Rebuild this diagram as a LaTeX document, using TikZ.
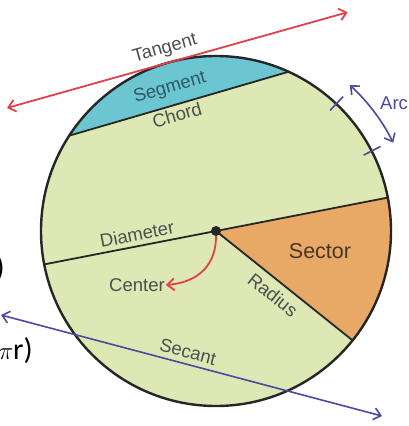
\documentclass[tikz,border=0pt]{standalone}
\usepackage{fontspec}
\setmainfont{Liberation Sans}
\newfontfamily\calib{Carlito}
\usetikzlibrary{arrows.meta,calc}
\definecolor{bggreen}{HTML}{DDE8B4}
\definecolor{segcyan}{HTML}{6CC6D2}
\definecolor{secorange}{HTML}{E8A866}
\definecolor{outline}{HTML}{262626}
\definecolor{tanred}{HTML}{E0404C}
\definecolor{arcblue}{HTML}{4A4A9E}
\definecolor{labgray}{HTML}{4E4E4E}
\definecolor{segtext}{HTML}{2E5866}
\definecolor{sectext}{HTML}{463626}
\tikzset{
  lab/.style={font=\fontsize{18.5}{20}\selectfont, text=labgray, inner sep=1pt},
  thinline/.style={draw=outline, line width=1.8pt},
  barb/.style={-{Straight Barb[length=7pt,width=12pt]}},
  dbarb/.style={{Straight Barb[length=7pt,width=12pt]}-{Straight Barb[length=7pt,width=12pt]}},
  tick/.style={draw=arcblue, line width=1.6pt},
  cuttext/.style={anchor=east, inner sep=0pt, font=\calib\fontsize{30}{32}\selectfont},
}
\begin{document}
\begin{tikzpicture}[x=1pt,y=1pt]
\useasboundingbox (0,0) rectangle (409,426);
\def\R{175}
\coordinate (c) at (216,195);
% disc
\fill[bggreen] (c) circle[radius=\R];
% segment
\fill[segcyan] ($(c)+(65.5:\R)$) arc[start angle=65.5,end angle=147,radius=\R] -- cycle;
% sector
\fill[secorange] (c) -- ($(c)+(-38.7:\R)$) arc[start angle=-38.7,end angle=11,radius=\R] -- cycle;
% chord, diameter, radius
\coordinate (ch1) at ($(c)+(147:\R)$);
\coordinate (ch2) at ($(c)+(65.5:\R)$);
\coordinate (d1) at ($(c)+(191:\R)$);
\coordinate (d2) at ($(c)+(11:\R)$);
\coordinate (r1) at ($(c)+(-38.7:\R)$);
\draw[thinline] (ch1) -- (ch2);
\draw[thinline] (d1) -- (d2);
\draw[thinline] (c) -- (r1);
% outline
\draw[outline, line width=2.4pt] (c) circle[radius=\R];
% centre dot
\node[circle, fill=outline, inner sep=0pt, minimum size=10pt] (O) at (c) {};
% tangent
\coordinate (tp) at ($(c)+(105.7:\R)$);
\coordinate (t1) at ($(tp)+(195.7:168)$);
\coordinate (t2) at ($(tp)+(15.7:186)$);
\draw[tanred, line width=1.8pt, dbarb] (t1) -- (t2);
% secant
\coordinate (s1) at (1,111);
\coordinate (s2) at (382,10);
\draw[arcblue, line width=1.6pt, dbarb] (s1) -- (s2);
% arc ticks
\draw[tick] ($(c)+(46.6:166)$) -- ($(c)+(46.6:185)$);
\draw[tick] ($(c)+(27.2:166)$) -- ($(c)+(27.2:185)$);
\draw[arcblue, line width=1.6pt, dbarb] ($(c)+(47.5:198)$) arc[start angle=47.5,end angle=26.5,radius=198];
% labels
\node[lab, rotate=15.7] (tan) at (165,377) {Tangent};
\node[lab, rotate=16, text=segtext] (seg) at (170,338) {Segment};
\node[lab, rotate=16] (cho) at (177,311) {Chord};
\node[lab, anchor=west, text=arcblue] (arc) at (379,323) {Arc};
\node[lab, rotate=11] (dia) at (137,192) {Diameter};
\node[lab] (ctr) at (137,141) {Center};
\node[lab, rotate=-38.7] (rad) at (273,131) {Radius};
\node[lab, font=\fontsize{21.5}{23}\selectfont, text=sectext] (sec) at (320,175) {Sector};
\node[lab, rotate=-14.8] (seca) at (188,74) {Secant};
% centre arrow
\draw[tanred, line width=1.8pt, barb] (O.south) .. controls +(0,-35) and +(25,2) .. (ctr.east);
% cut-off texts at the left
\node[cuttext] (p1) at (5,157) {)};
\node[cuttext] (p2) at (33,75) {$\pi$r)};
\end{tikzpicture}
\end{document}
